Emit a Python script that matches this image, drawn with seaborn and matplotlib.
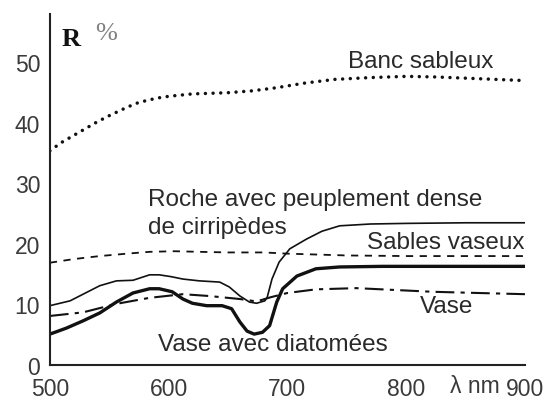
import matplotlib
matplotlib.use("Agg")
import matplotlib.pyplot as plt
import seaborn as sns

# ---- data ----
wl_banc = [500, 510, 525, 540, 550, 565, 575, 590, 600, 620, 650, 670, 690, 715, 740, 770, 800, 825, 850, 875, 900]
banc = [35.4, 36.8, 38.5, 40.2, 41.2, 42.6, 43.4, 44.1, 44.4, 44.8, 45.0, 45.3, 45.8, 46.6, 47.2, 47.5, 47.7, 47.6, 47.4, 47.2, 47.0]

wl_sv = [500, 520, 542, 565, 584, 605, 626, 650, 680, 700, 750, 800, 850, 900]
sables_vaseux = [16.9, 17.5, 18.0, 18.4, 18.7, 18.8, 18.7, 18.6, 18.6, 18.4, 18.1, 18.0, 18.0, 18.0]

wl_roche = [500, 517, 528, 542, 556, 570, 584, 592, 602, 612, 626, 643, 651, 660, 668, 674,
            681, 683, 687, 693, 702, 716, 729, 744, 770, 800, 850, 900]
roche = [9.8, 10.6, 11.7, 13.1, 13.9, 14.0, 14.9, 14.9, 14.6, 14.2, 13.9, 13.7, 12.9, 11.4, 10.4, 10.2,
         10.6, 11.2, 14.2, 17.0, 19.2, 20.8, 22.1, 23.0, 23.3, 23.4, 23.5, 23.5]

wl_diat = [500, 514, 528, 542, 556, 570, 584, 592, 603, 612, 620, 632, 645, 653, 660, 666,
           672, 679, 685, 691, 696, 708, 724, 744, 780, 840, 900]
diatomees = [5.1, 6.1, 7.3, 8.6, 10.4, 11.9, 12.6, 12.6, 12.1, 10.9, 10.2, 9.8, 9.8, 9.3, 7.1, 5.6,
             5.1, 5.4, 6.5, 10.4, 12.6, 14.7, 15.9, 16.2, 16.3, 16.3, 16.3]

wl_vase = [500, 528, 556, 584, 612, 634, 660, 674, 686, 700, 724, 758, 790, 822, 860, 900]
vase = [8.1, 8.7, 10.1, 11.1, 11.7, 11.4, 10.9, 10.5, 11.2, 11.9, 12.5, 12.7, 12.4, 12.1, 11.9, 11.7]

x_ticks = [500, 600, 700, 800, 900]
y_ticks = [0, 10, 20, 30, 40, 50]

sns.set_style("white")
plt.rcParams["font.family"] = ["Liberation Sans", "DejaVu Sans"]

fig = plt.figure(figsize=(5.48, 4.02), dpi=100)
ax = fig.add_axes([0.091, 0.0896, 0.867, 0.873])

ink = "#111111"
sns.lineplot(x=wl_banc, y=banc, ax=ax, color=ink, lw=2.5,
             linestyle=(0, (0.01, 2.2)), dash_capstyle="round")
sns.lineplot(x=wl_sv, y=sables_vaseux, ax=ax, color=ink, lw=1.3,
             linestyle=(0, (4, 3.6)))
sns.lineplot(x=wl_roche, y=roche, ax=ax, color=ink, lw=1.2)
sns.lineplot(x=wl_diat, y=diatomees, ax=ax, color=ink, lw=2.4)
sns.lineplot(x=wl_vase, y=vase, ax=ax, color=ink, lw=1.5,
             linestyle=(0, (9, 3, 2, 3)))
for ln in ax.get_lines():
    ln.set_solid_joinstyle("round")

ax.set_xlim(500, 900)
ax.set_ylim(0, 58)
ax.set_xticks(x_ticks)
ax.set_yticks(y_ticks)
tfs = 16.5
ax.set_xticklabels([str(t) for t in x_ticks], fontsize=tfs)
ax.set_yticklabels([str(t) for t in y_ticks], fontsize=tfs)
ax.tick_params(axis="y", direction="in", length=8.5, width=1.3, pad=7, colors="#222222",
               labelcolor="#3a3a3a")
ax.tick_params(axis="x", direction="out", length=7, width=1.3, pad=2, colors="#222222",
               labelcolor="#3a3a3a")
for s in ["top", "right"]:
    ax.spines[s].set_visible(False)
for s in ["left", "bottom"]:
    ax.spines[s].set_linewidth(1.5)
    ax.spines[s].set_color("#222222")
ax.set_xlabel("")
ax.set_ylabel("")

fs = 17.5
tc = "#2a2a2a"
ax.text(510, 53.9, "R", fontsize=19, fontweight="bold", family="Liberation Serif",
        color=ink, va="center", ha="left")
ax.text(538, 54.9, "%", fontsize=19, family="Liberation Serif",
        color="#808080", va="center", ha="left")
ax.text(812, 50.3, "Banc sableux", fontsize=fs, color=tc, ha="center", va="center")
ax.text(583, 27.5, "Roche avec peuplement dense", fontsize=fs, color=tc, ha="left", va="center")
ax.text(583, 22.8, "de cirripèdes", fontsize=fs, color=tc, ha="left", va="center")
ax.text(833, 20.3, "Sables vaseux", fontsize=fs, color=tc, ha="center", va="center")
ax.text(834, 9.7, "Vase", fontsize=fs, color=tc, ha="center", va="center")
ax.text(688, 3.4, "Vase avec diatomées", fontsize=fs, color=tc, ha="center", va="center")
fig.text(500 / 548, 1 - 387 / 402, "λ nm", fontsize=tfs, color="#3a3a3a", ha="right", va="center")

fig.savefig("out.png", dpi=100)
